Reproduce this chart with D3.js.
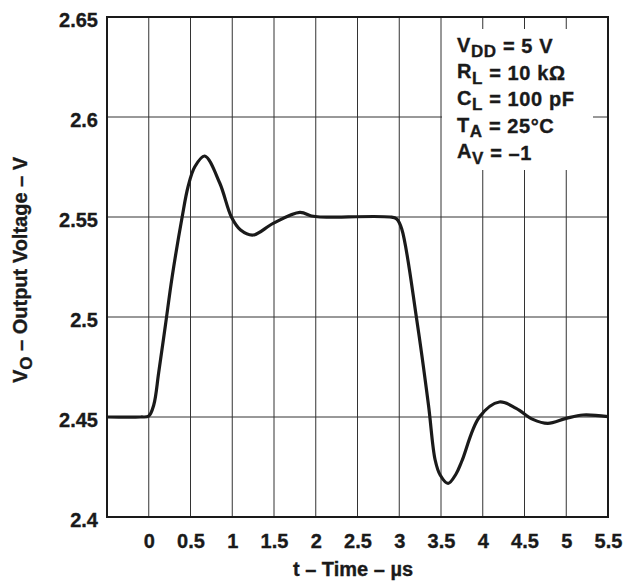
<!DOCTYPE html>
<html>
<head>
<meta charset="utf-8">
<script src="https://cdn.jsdelivr.net/npm/d3@7"></script>
<style>
  body { margin: 0; background: #fff; }
  svg text { font-family: "Liberation Sans", Arial, sans-serif; font-weight: bold; fill: #1a1a1a;
             stroke: #1a1a1a; stroke-width: 0.35px; }
</style>
</head>
<body>
<svg width="626" height="586"></svg>
<script>
// time (us) and output voltage (V)
var timeUs = [-0.5, -0.1, 0, 0.06, 0.12, 0.2, 0.28, 0.4, 0.47, 0.55, 0.67, 0.85, 0.99, 1.1, 1.25,
              1.49, 1.81, 1.95, 2.05, 2.89, 2.97, 3.03, 3.21, 3.35, 3.43, 3.49, 3.585, 3.68, 3.75,
              3.96, 4.2, 4.4, 4.6, 4.78, 5.0, 5.2, 5.5];
var voltage = [2.45, 2.45, 2.4505, 2.456, 2.4725, 2.496, 2.52, 2.55, 2.565, 2.575, 2.5805, 2.567, 2.55, 2.5435, 2.541,
               2.5468, 2.5523, 2.5505, 2.55, 2.55, 2.549, 2.544, 2.4985, 2.456, 2.4285, 2.421, 2.4168, 2.4215, 2.428,
               2.45, 2.4575, 2.4543, 2.4488, 2.4468, 2.4493, 2.451, 2.4502];

var xTicks = [0, 0.5, 1, 1.5, 2, 2.5, 3, 3.5, 4, 4.5, 5, 5.5];
var xTickLabels = ["0", "0.5", "1", "1.5", "2", "2.5", "3", "3.5", "4", "4.5", "5", "5.5"];
var yTicks = [2.4, 2.45, 2.5, 2.55, 2.6, 2.65];
var yTickLabels = ["2.4", "2.45", "2.5", "2.55", "2.6", "2.65"];

// legend lines: main letter, subscript, rest
var legendLines = [
  ["V", "DD", " = 5 V"],
  ["R", "L", " = 10 k\u03A9"],
  ["C", "L", " = 100 pF"],
  ["T", "A", " = 25\u00B0C"],
  ["A", "V", " = \u20131"]
];

var svg = d3.select("svg");

var x = d3.scaleLinear().domain([-0.5, 5.5]).range([107, 608]);
var y = d3.scaleLinear().domain([2.4, 2.65]).range([517, 17]);

// grid
var grid = svg.append("g").attr("stroke", "#333").attr("stroke-width", 1);
grid.selectAll("line.v")
  .data(xTicks.slice(0, -1))
  .enter().append("line")
    .attr("x1", function(d) { return x(d); })
    .attr("x2", function(d) { return x(d); })
    .attr("y1", y(2.65)).attr("y2", y(2.4));
grid.selectAll("line.h")
  .data(yTicks.slice(1, -1))
  .enter().append("line")
    .attr("x1", x(-0.5)).attr("x2", x(5.5))
    .attr("y1", function(d) { return y(d); })
    .attr("y2", function(d) { return y(d); });

// white box behind the conditions
svg.append("rect")
  .attr("x", 442).attr("y", 29)
  .attr("width", 151).attr("height", 141)
  .attr("fill", "#fff");

// trace
var line = d3.line()
  .x(function(d, i) { return x(timeUs[i]); })
  .y(function(d) { return y(d); })
  .curve(d3.curveCatmullRom.alpha(0.5));

svg.append("path")
  .datum(voltage)
  .attr("d", line)
  .attr("fill", "none")
  .attr("stroke", "#1a1a1a")
  .attr("stroke-width", 3.2)
  .attr("stroke-linejoin", "round");

// frame
svg.append("rect")
  .attr("x", x(-0.5)).attr("y", y(2.65))
  .attr("width", x(5.5) - x(-0.5)).attr("height", y(2.4) - y(2.65))
  .attr("fill", "none")
  .attr("stroke", "#1a1a1a")
  .attr("stroke-width", 2);

// axes
var xAxis = svg.append("g")
  .attr("transform", "translate(0," + y(2.4) + ")")
  .call(d3.axisBottom(x)
    .tickValues(xTicks)
    .tickSize(0)
    .tickPadding(17)
    .tickFormat(function(d, i) { return xTickLabels[i]; }));
xAxis.select(".domain").remove();
xAxis.selectAll("text").attr("font-size", 20).attr("fill", "#1a1a1a");

var yAxis = svg.append("g")
  .attr("transform", "translate(" + x(-0.5) + ",0)")
  .call(d3.axisLeft(y)
    .tickValues(yTicks)
    .tickSize(0)
    .tickPadding(9)
    .tickFormat(function(d, i) { return yTickLabels[i]; }));
yAxis.select(".domain").remove();
yAxis.selectAll("text").attr("font-size", 20).attr("dy", "0.45em").attr("fill", "#1a1a1a");

// axis titles
svg.append("text")
  .attr("x", 353).attr("y", 576)
  .attr("text-anchor", "middle")
  .attr("font-size", 20)
  .text("t \u2013 Time \u2013 \u00B5s");

var yTitle = svg.append("text")
  .attr("transform", "translate(27,270) rotate(-90)")
  .attr("text-anchor", "middle")
  .attr("font-size", 20);
yTitle.append("tspan").text("V");
yTitle.append("tspan").attr("dy", 5).attr("font-size", 17).text("O");
yTitle.append("tspan").attr("dy", -5).text(" \u2013 Output Voltage \u2013 V");

// conditions
var legend = svg.append("g");
legendLines.forEach(function(l, i) {
  var t = legend.append("text")
    .attr("x", 457).attr("y", 53 + i * 26.7)
    .attr("font-size", 20)
    .attr("letter-spacing", 0.6);
  t.append("tspan").attr("dy", -1.5).text(l[0]);
  t.append("tspan").attr("dy", 5.5).attr("font-size", 17).text(l[1]);
  t.append("tspan").attr("dy", -4).text(l[2]);
});
</script>
</body>
</html>
